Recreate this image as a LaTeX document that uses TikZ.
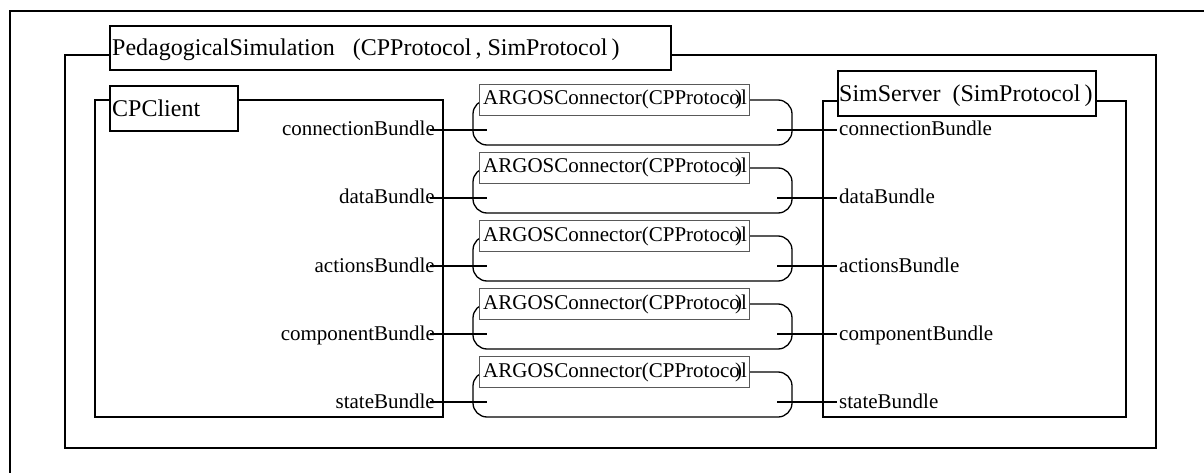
\documentclass[tikz,border=0pt]{standalone}
\usepackage{fontspec}
\setmainfont{Liberation Serif}
\begin{document}
\begin{tikzpicture}[x=1pt,y=-1pt,
  frame/.style={draw, line width=1.5pt, inner sep=0pt, outer sep=0pt},
  titlebox/.style={draw, line width=1.3pt, fill=white, inner sep=0pt, outer sep=0pt},
  titletext/.style={inner sep=0pt, anchor=base west, font=\fontsize{24}{24}\selectfont},
  conn/.style={draw, line width=1.3pt, rounded corners=14pt, inner sep=0pt, outer sep=0pt, minimum width=319pt, minimum height=45pt},
  argosbox/.style={draw=black!65, line width=0.9pt, fill=white, inner sep=0pt, outer sep=0pt, minimum width=270pt, minimum height=31pt},
  argostext/.style={inner sep=0pt, anchor=base west, font=\fontsize{21}{21}\selectfont},
  portL/.style={inner sep=0pt, anchor=base east, font=\fontsize{21}{21}\selectfont},
  portR/.style={inner sep=0pt, anchor=base west, font=\fontsize{21}{21}\selectfont},
  wire/.style={line width=1.3pt}
]
\useasboundingbox (0,0) rectangle (1204,473);
\fill[white] (0,0) rectangle (1204,473);
% outer frame
\coordinate (o1) at (10,473);
\coordinate (o2) at (10,11);
\coordinate (o3) at (1204,11);
\draw[line width=1.5pt] (o1) -- (o2) -- (o3);
% main frames
\node[frame, minimum width=1091pt, minimum height=393pt] (ped) at (610.5,251.5) {};
\node[frame, minimum width=348pt, minimum height=317pt] (cpc) at (269,258.5) {};
\node[frame, minimum width=303pt, minimum height=316pt] (sim) at (974.5,259) {};
% title boxes
\node[titlebox, minimum width=561pt, minimum height=44pt] (pedT) at (390.5,48) {};
\node[titletext] (pedL) at (112,56) {PedagogicalSimulation\ \ \ (CPProtocol\,, SimProtocol\,)};
\node[titlebox, minimum width=128pt, minimum height=45pt] (cpcT) at (174,108.5) {};
\node[titletext] (cpcL) at (112,117) {CPClient};
\node[titlebox, minimum width=258pt, minimum height=45pt] (simT) at (967,93.5) {};
\node[titletext] (simL) at (839,102) {SimServer\ \ (SimProtocol\,)};
% connectors
\foreach \k/\y/\nm in {1/130/connectionBundle,2/198/dataBundle,3/266/actionsBundle,4/334/componentBundle,5/402/stateBundle}{
  \node[conn] (c\k) at (632.5,\y-7.5) {};
  \node[argosbox] (a\k) at (614,\y-30.5) {};
  \node[argostext] (at\k) at (483,\y-25) {ARGOSConnector(CPProtoc\rlap{o}\kern0.28em)\kern-0.05em l};
  \coordinate (lp\k) at (430,\y);
  \coordinate (li\k) at (487,\y);
  \coordinate (ri\k) at (777,\y);
  \coordinate (rp\k) at (837,\y);
  \draw[wire] (lp\k) -- (li\k);
  \draw[wire] (ri\k) -- (rp\k);
  \node[portL] (pl\k) at (435,\y+6) {\nm};
  \node[portR] (pr\k) at (839,\y+6) {\nm};
}
\end{tikzpicture}
\end{document}
